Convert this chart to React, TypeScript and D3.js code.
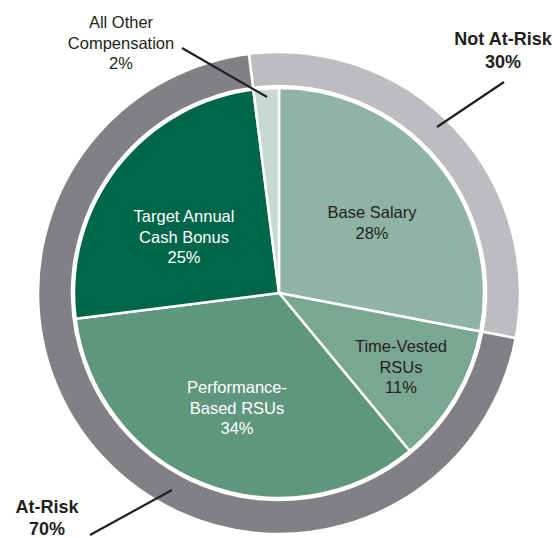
import React from "react";
import * as d3 from "d3";

const categories = ["Base Salary", "Time-Vested RSUs", "Performance-Based RSUs", "Target Annual Cash Bonus", "All Other Compensation"];
const values = [28, 11, 34, 25, 2];
const sliceColors = ["#8fb3a5", "#79a793", "#5f967e", "#00664a", "#c6dad1"];
const labelLines = [["Base Salary", "28%"], ["Time-Vested", "RSUs", "11%"], ["Performance-", "Based RSUs", "34%"], ["Target Annual", "Cash Bonus", "25%"], ["All Other", "Compensation", "2%"]];
const labelColors = ["#231f20", "#231f20", "#ffffff", "#ffffff", "#231f20"];

const ringCategories = ["Not At-Risk", "At-Risk"];
const ringValues = [30, 70];
const ringColors = ["#bcbdc0", "#808184"];

const W = 560, H = 538;
const cx = 279, cy = 293;
const rPie = 205, rRingIn = 207, rRingOut = 241;

// label anchor offsets (relative to centre) for inner labels
const labelOffsets: [number, number][] = [[93, -75], [122, 59], [-42, 100], [-95, -71], [-158, -265]];

export default function App() {
  const pie = d3.pie<number>().sort(null).value((d) => d).startAngle(0).endAngle(2 * Math.PI);
  const arcs = pie(values);
  const arcGen = d3.arc<d3.PieArcDatum<number>>().innerRadius(0).outerRadius(rPie);

  const offset = -(values[4] / 100) * 2 * Math.PI;
  const ringPie = d3.pie<number>().sort(null).value((d) => d).startAngle(offset).endAngle(offset + 2 * Math.PI);
  const ringArcs = ringPie(ringValues);
  const ringGen = d3.arc<d3.PieArcDatum<number>>().innerRadius(rRingIn).outerRadius(rRingOut);

  const font = "'Liberation Sans', Arial, Helvetica, sans-serif";
  const lineH = 20.5;

  return (
    <svg width={W} height={H} style={{ position: "absolute", left: 0, top: 0 }} fontFamily={font}>
      <g transform={`translate(${cx},${cy})`}>
        {ringArcs.map((a, i) => (
          <path key={"r" + i} d={ringGen(a) || ""} fill={ringColors[i]} stroke="#fff" strokeWidth={2.5} />
        ))}
        {arcs.map((a, i) => (
          <path key={"p" + i} d={arcGen(a) || ""} fill={sliceColors[i]} stroke="#fff" strokeWidth={2.5} strokeLinejoin="round" />
        ))}
        {labelLines.map((lines, i) => {
          const [dx, dy] = labelOffsets[i];
          return (
            <text key={"t" + i} x={dx} y={dy} textAnchor="middle" fontSize={16.5} fill={labelColors[i]}>
              {lines.map((l, j) => (
                <tspan key={j} x={dx} y={dy + j * lineH}>{l}</tspan>
              ))}
            </text>
          );
        })}
      </g>
      {/* leader lines */}
      <line x1={182} y1={48} x2={267} y2={97} stroke="#231f20" strokeWidth={2.2} />
      <line x1={504} y1={82} x2={437} y2={127} stroke="#231f20" strokeWidth={2.2} />
      <line x1={90} y1={535} x2={172} y2={490} stroke="#231f20" strokeWidth={2.2} />
      <text x={503} y={45} textAnchor="middle" fontSize={18} fontWeight="bold" fill="#231f20">
        <tspan x={503} y={45}>{ringCategories[0]}</tspan>
        <tspan x={503} y={68}>{ringValues[0]}%</tspan>
      </text>
      <text x={47} y={513} textAnchor="middle" fontSize={18} fontWeight="bold" fill="#231f20">
        <tspan x={47} y={513}>{ringCategories[1]}</tspan>
        <tspan x={47} y={535}>{ringValues[1]}%</tspan>
      </text>
    </svg>
  );
}
